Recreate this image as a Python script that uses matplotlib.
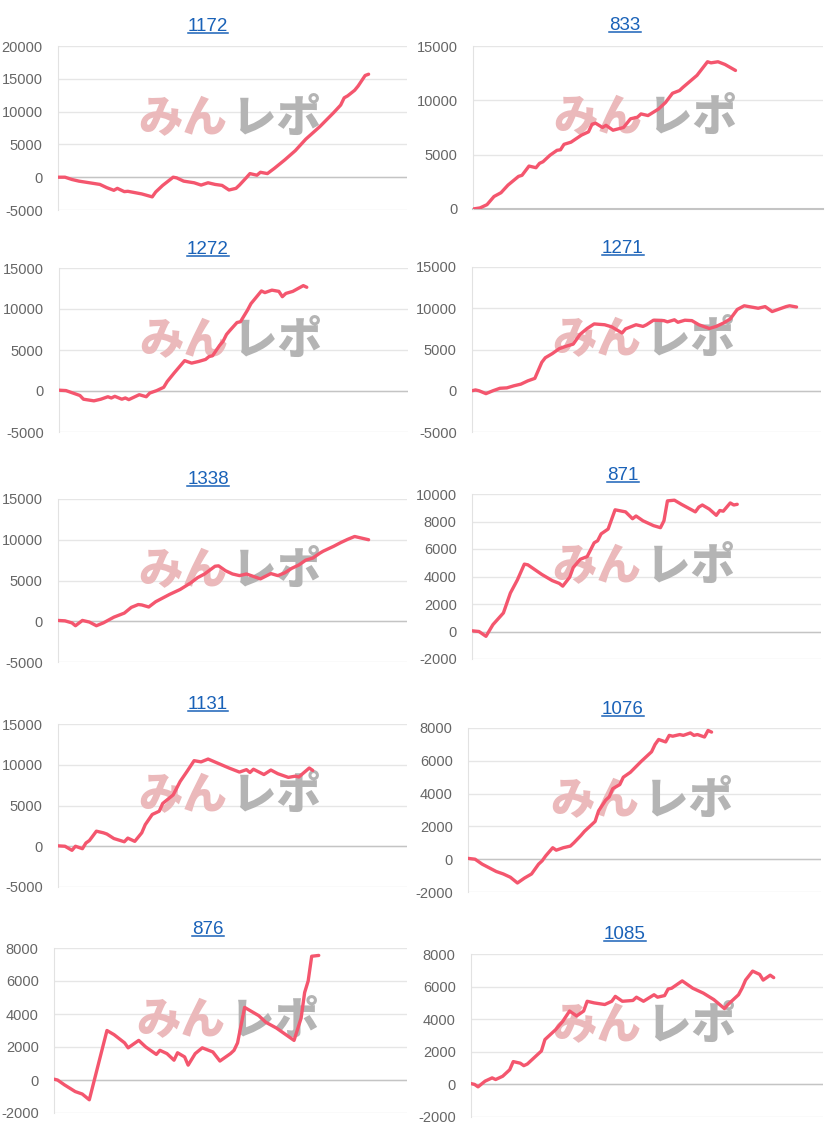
import matplotlib.pyplot as plt
from matplotlib.lines import Line2D

plt.rcParams['font.family'] = ['Liberation Sans', 'DejaVu Sans']
plt.rcParams['axes.unicode_minus'] = False

W, H, DPI = 828, 1135, 100

# --- data (day index, cumulative difference) ---
days_1172 = [0, 2, 4, 6, 9, 12, 14, 16, 17, 19, 20, 24, 27, 28, 30, 33, 34, 36, 39, 41, 43, 45, 47, 49, 51, 52,
             54, 55, 57, 58, 60, 62, 65, 68, 71, 75, 79, 81, 82, 83, 85, 86, 88, 89]
diff_1172 = [0, 0, -350, -600, -850, -1100, -1600, -2000, -1700, -2200, -2150, -2550, -3000, -2250, -1250, 0,
             -100, -600, -850, -1200, -850, -1100, -1250, -1950, -1700, -1200, -50, 550, 300, 750, 550, 1350,
             2650, 4050, 5800, 7700, 9850, 11000, 12100, 12400, 13250, 13900, 15500, 15700]

days_833 = [0, 2, 4, 6, 8, 10, 13, 14, 16, 18, 19, 20, 22, 24, 25, 26, 28, 31, 33, 34, 35, 37, 38, 40, 43, 45,
            47, 48, 50, 53, 55, 57, 59, 60, 64, 67, 68, 70, 72, 75]
diff_833 = [0, 100, 400, 1150, 1500, 2200, 3000, 3100, 3950, 3800, 4200, 4350, 4950, 5400, 5450, 5950, 6150,
            6800, 7100, 7800, 7900, 7500, 7700, 7250, 7500, 8300, 8450, 8750, 8600, 9200, 9800, 10650, 10900,
            11200, 12300, 13550, 13450, 13550, 13300, 12750]

days_1272 = [0, 2, 4, 6, 7, 10, 12, 14, 15, 16, 18, 19, 20, 23, 25, 26, 28, 30, 31, 33, 34, 36, 38, 40, 42, 43,
             44, 46, 47, 48, 49, 51, 52, 54, 55, 58, 59, 61, 63, 64, 65, 67, 70, 71]
diff_1272 = [100, 50, -250, -550, -1000, -1200, -1000, -700, -850, -650, -1000, -850, -1050, -450, -700, -250,
             50, 450, 1150, 2200, 2700, 3700, 3400, 3600, 3850, 4200, 4300, 5550, 6050, 6900, 7400, 8350, 8450,
             9850, 10650, 12200, 12000, 12300, 12150, 11500, 11900, 12150, 12850, 12650]

days_1271 = [0, 1, 2, 4, 6, 8, 10, 12, 14, 16, 18, 20, 21, 23, 25, 27, 29, 31, 33, 35, 38, 40, 43, 44, 47, 49,
             50, 52, 55, 56, 58, 59, 61, 63, 65, 68, 70, 72, 74, 76, 78, 80, 82, 84, 86, 88, 90, 91, 93]
diff_1271 = [0, 100, 0, -350, 0, 300, 350, 600, 800, 1200, 1500, 3450, 4000, 4500, 5100, 5400, 5650, 6850,
             7550, 8100, 8000, 7750, 7000, 7500, 8000, 7800, 8000, 8550, 8500, 8350, 8600, 8300, 8550, 8500,
             8000, 7550, 7800, 8200, 8700, 9850, 10300, 10150, 10000, 10200, 9600, 9900, 10200, 10300, 10150]

days_1338 = [0, 2, 4, 5, 7, 9, 11, 13, 16, 19, 21, 23, 24, 26, 28, 32, 35, 38, 40, 42, 45, 46, 48, 50, 52, 54,
             58, 61, 63, 65, 67, 69, 71, 73, 75, 76, 79, 81, 83, 85, 86, 89]
diff_1338 = [100, 50, -200, -550, 100, -100, -550, -200, 500, 1000, 1700, 2050, 2000, 1750, 2400, 3300, 3900,
             4700, 5350, 5800, 6750, 6800, 6200, 5800, 5600, 5800, 5200, 5850, 5600, 5950, 6500, 6900, 7500,
             7750, 8350, 8600, 9200, 9650, 10050, 10400, 10300, 10000]

days_871 = [0, 2, 4, 6, 9, 11, 13, 15, 16, 18, 20, 23, 25, 26, 28, 29, 31, 33, 35, 36, 37, 39, 41, 44, 46, 47,
            49, 52, 54, 55, 56, 58, 60, 64, 65, 66, 68, 70, 71, 72, 74, 75, 76]
diff_871 = [50, 0, -350, 500, 1350, 2800, 3750, 4900, 4850, 4500, 4150, 3700, 3500, 3300, 3950, 4650, 5250,
            5450, 6450, 6600, 7100, 7450, 8850, 8700, 8200, 8400, 8050, 7700, 7550, 8050, 9500, 9550, 9250,
            8700, 9050, 9200, 8900, 8450, 8800, 8750, 9350, 9200, 9250]

days_1131 = [0, 2, 4, 5, 7, 8, 9, 11, 13, 14, 16, 19, 20, 22, 24, 25, 27, 29, 30, 33, 35, 37, 39, 41, 43, 46,
             49, 52, 54, 55, 56, 59, 61, 63, 66, 68, 69, 72, 73]
diff_1131 = [50, 0, -500, 0, -300, 400, 700, 1850, 1650, 1500, 950, 550, 1000, 600, 1650, 2650, 3900, 4300,
             5250, 6300, 7950, 9200, 10500, 10350, 10700, 10150, 9600, 9100, 9400, 9050, 9450, 8800, 9350,
             8900, 8450, 8600, 8500, 9600, 9300]

days_1076 = [0, 2, 4, 8, 10, 12, 14, 16, 18, 20, 21, 22, 24, 25, 27, 29, 30, 32, 33, 36, 37, 39, 40, 41, 43,
             44, 46, 49, 52, 53, 54, 56, 57, 58, 60, 61, 63, 64, 65, 67, 68, 69]
diff_1076 = [50, 0, -300, -750, -900, -1100, -1450, -1150, -900, -300, -100, 200, 700, 550, 700, 800, 1000,
             1450, 1700, 2300, 2950, 3600, 3800, 4300, 4550, 5000, 5300, 5950, 6550, 7000, 7300, 7150, 7550,
             7500, 7600, 7550, 7700, 7550, 7600, 7450, 7850, 7750]

days_876 = [0, 1, 3, 6, 8, 10, 15, 17, 20, 21, 24, 26, 29, 30, 32, 34, 35, 37, 38, 40, 42, 45, 47, 50, 51, 52,
            54, 56, 58, 60, 63, 68, 70, 71, 72, 73, 75]
diff_876 = [50, 0, -300, -700, -850, -1200, 3000, 2750, 2250, 1950, 2400, 2000, 1550, 1800, 1600, 1200, 1650,
            1400, 900, 1600, 1950, 1700, 1150, 1600, 1800, 2250, 4400, 4150, 3900, 3500, 3150, 2400, 3750,
            5300, 6000, 7500, 7550]

days_1085 = [0, 1, 2, 4, 6, 7, 9, 11, 12, 14, 15, 16, 18, 20, 21, 24, 26, 28, 30, 32, 33, 35, 38, 40, 41, 43,
             46, 47, 49, 52, 53, 55, 56, 57, 59, 60, 61, 63, 66, 69, 72, 73, 76, 77, 78, 80, 82, 83, 85, 86]
diff_1085 = [50, 0, -150, 200, 400, 300, 500, 900, 1400, 1300, 1150, 1250, 1650, 2050, 2750, 3350, 3850, 4500,
             4200, 4500, 5100, 5000, 4900, 5100, 5400, 5100, 5150, 5350, 5100, 5500, 5350, 5450, 5850, 5900,
             6200, 6350, 6200, 5900, 5600, 5200, 4650, 4900, 5500, 5900, 6400, 6950, 6750, 6400, 6700, 6550]

titles = ['1172', '833', '1272', '1271', '1338', '871', '1131', '1076', '876', '1085']
series = [(days_1172, diff_1172), (days_833, diff_833), (days_1272, diff_1272), (days_1271, diff_1271),
          (days_1338, diff_1338), (days_871, diff_871), (days_1131, diff_1131), (days_1076, diff_1076),
          (days_876, diff_876), (days_1085, diff_1085)]
y_ranges = [(-5000, 20000, 5000), (0, 15000, 5000), (-5000, 15000, 5000), (-5000, 15000, 5000),
            (-5000, 15000, 5000), (-2000, 10000, 2000), (-5000, 15000, 5000), (-2000, 8000, 2000),
            (-2000, 8000, 2000), (-2000, 8000, 2000)]

# --- layout in pixels: left, top, right, bottom of each plot area; title centre x, y ---
boxes = [(58, 46, 407, 210), (473, 46, 823, 209), (59, 268, 408, 432), (472, 267, 821, 432),
         (58, 499, 407, 662), (472, 494, 821, 659), (58, 724, 407, 887), (468, 728, 821, 892),
         (54, 948, 407, 1113), (471, 954, 823, 1117)]
title_pos = [(208, 24), (625, 23), (208, 247), (623, 246), (208, 477), (623, 473), (208, 702), (623, 707),
             (208, 927), (625, 932)]
X_SPAN = 100

LINE_COLOR = '#f4566e'
LINK_COLOR = '#1a62b8'

fig = plt.figure(figsize=(W / DPI, H / DPI), dpi=DPI)
fig.patch.set_facecolor('white')

title_texts = []
for (days, diff), title, (lo, hi, step), (l, t, r, b), (tx, ty) in zip(series, titles, y_ranges, boxes, title_pos):
    ax = fig.add_axes([l / W, 1 - b / H, (r - l) / W, (b - t) / H])
    ax.plot(days, diff, color=LINE_COLOR, lw=2.4, solid_joinstyle='round', solid_capstyle='round', zorder=3)
    ax.set_xlim(0, X_SPAN)
    ax.set_ylim(lo, hi)
    ax.set_yticks(range(lo, hi + 1, step))
    ax.set_xticks([])
    ax.yaxis.grid(True, color='#e6e6e6', lw=1)
    ax.set_axisbelow(True)
    if lo < 0:
        ax.axhline(0, color='#c4c4c4', lw=1, zorder=1)
    else:
        ax.axhline(0, color='#c4c4c4', lw=1.5, zorder=1, clip_on=False)
    for s in ['top', 'right', 'bottom']:
        ax.spines[s].set_visible(False)
    ax.spines['left'].set_color('#e2e2e2')
    ax.tick_params(axis='y', length=0, pad=11, labelsize=10.5, labelcolor='#666666')

    # watermark
    ax.text(0.485, 0.56, 'みん', transform=ax.transAxes, ha='right', va='center', fontsize=32,
            fontweight='black', color='#ebb9bb', family=['Noto Sans CJK JP'], zorder=2)
    ax.text(0.5, 0.56, 'レポ', transform=ax.transAxes, ha='left', va='center', fontsize=32,
            fontweight='black', color='#b4b4b4', family=['Noto Sans CJK JP'], zorder=2)

    tt = fig.text(tx / W, 1 - (ty + 7) / H, title, ha='center', va='baseline', fontsize=13.5, color=LINK_COLOR)
    title_texts.append(tt)

# underline the titles like links
fig.canvas.draw()
for tt in title_texts:
    bb = tt.get_window_extent()
    y = (bb.y0 + 2.5) / H
    fig.add_artist(Line2D([bb.x0 / W, bb.x1 / W], [y, y], transform=fig.transFigure,
                          color=LINK_COLOR, lw=1.1))

fig.savefig('out.png', dpi=DPI)
